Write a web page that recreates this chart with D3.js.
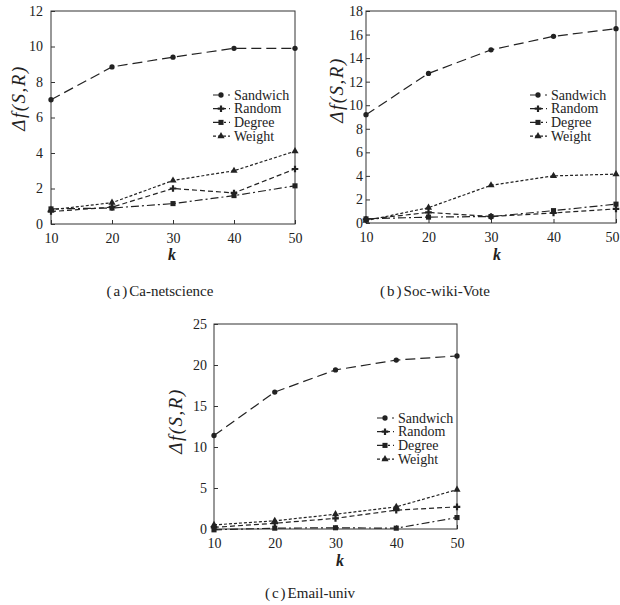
<!DOCTYPE html>
<html>
<head>
<meta charset="utf-8">
<script src="https://cdn.jsdelivr.net/npm/d3@7"></script>
<style>
  body { margin: 0; background: #fff; }
  svg { display: block; }
</style>
</head>
<body>
<script>
// x values shared by all panels
const ks = [10, 20, 30, 40, 50]
const seriesNames = ['Sandwich', 'Random', 'Degree', 'Weight']

// (a) Ca-netscience
const caSandwich = [7.0, 8.85, 9.4, 9.9, 9.9]
const caRandom = [0.7, 0.95, 2.0, 1.75, 3.1]
const caDegree = [0.85, 0.9, 1.15, 1.6, 2.15]
const caWeight = [0.8, 1.2, 2.45, 3.0, 4.1]
const caTicks = [0, 2, 4, 6, 8, 10, 12]

// (b) Soc-wiki-Vote
const socSandwich = [9.2, 12.7, 14.7, 15.85, 16.5]
const socRandom = [0.3, 0.9, 0.55, 0.85, 1.2]
const socDegree = [0.35, 0.5, 0.55, 1.05, 1.6]
const socWeight = [0.2, 1.3, 3.2, 4.0, 4.15]
const socTicks = [0, 2, 4, 6, 8, 10, 12, 14, 16, 18]

// (c) Email-univ
const emSandwich = [11.4, 16.7, 19.4, 20.6, 21.1]
const emRandom = [0.2, 0.7, 1.3, 2.3, 2.7]
const emDegree = [-0.1, 0.1, 0.15, 0.1, 1.4]
const emWeight = [0.5, 1.0, 1.8, 2.7, 4.8]
const emTicks = [0, 5, 10, 15, 20, 25]

const FONT = "'Liberation Serif', 'Times New Roman', 'DejaVu Serif', serif"

const dashes = {
  Sandwich: '10,5',
  Random: '5,3',
  Degree: '8,3,2,3',
  Weight: '3,2'
}
const symbols = {
  Sandwich: d3.symbolCircle,
  Random: d3.symbolCross,
  Degree: d3.symbolSquare,
  Weight: d3.symbolTriangle
}
const symSize = { Sandwich: 22, Random: 24, Degree: 26, Weight: 22 }

const panels = [
  { caption: '(a)', name: 'Ca-netscience', series: [caSandwich, caRandom, caDegree, caWeight],
    ticks: caTicks, box: [51, 295, 11, 224], pad: 8, legend: [213, 95], ylab: [18, 98], klab: [172, 260], cap: [160, 296] },
  { caption: '(b)', name: 'Soc-wiki-Vote', series: [socSandwich, socRandom, socDegree, socWeight],
    ticks: socTicks, box: [366, 616, 11, 223], pad: 3, legend: [530, 95], ylab: [336, 90], klab: [497, 260], cap: [435, 296] },
  { caption: '(c)', name: 'Email-univ', series: [emSandwich, emRandom, emDegree, emWeight],
    ticks: emTicks, box: [214, 457, 324, 529], pad: 7, legend: [377, 418], ylab: [175, 421], klab: [340, 566], cap: [310, 598] }
]

const svg = d3.select('body').append('svg')
  .attr('width', 620)
  .attr('height', 605)
  .attr('font-family', FONT)

panels.forEach(p => {
  const [x0, x1, y0, y1] = p.box
  const x = d3.scaleLinear().domain([10, 50]).range([x0, x1])
  const y = d3.scaleLinear().domain([0, d3.max(p.ticks)]).range([y1, y0])
  const g = svg.append('g')

  // frame
  g.append('rect')
    .attr('x', x0).attr('y', y0)
    .attr('width', x1 - x0).attr('height', y1 - y0)
    .attr('fill', 'none')
    .attr('stroke', '#333')
    .attr('stroke-width', 1)

  const ax = g.append('g')
    .attr('transform', `translate(0,${y1})`)
    .call(d3.axisBottom(x).tickValues(ks).tickSizeInner(-4).tickSizeOuter(0).tickPadding(9))
  const ay = g.append('g')
    .attr('transform', `translate(${x0},0)`)
    .call(d3.axisLeft(y).tickValues(p.ticks).tickSizeInner(-4).tickSizeOuter(0).tickPadding(p.pad))
  ;[ax, ay].forEach(a => {
    a.attr('font-family', FONT).attr('font-size', 14)
    a.select('.domain').remove()
    a.selectAll('line').attr('stroke', '#333')
    a.selectAll('text').attr('fill', '#222')
  })
  // keep the last x label inside the page
  ax.selectAll('.tick text').filter(d => x(d) + 8 > 620).attr('dx', -4)

  const line = d3.line()
    .x((d, i) => x(ks[i]))
    .y(d => y(d))

  p.series.forEach((vals, si) => {
    const nm = seriesNames[si]
    g.append('path')
      .datum(vals)
      .attr('d', line)
      .attr('fill', 'none')
      .attr('stroke', '#222')
      .attr('stroke-width', 1.2)
      .attr('stroke-dasharray', dashes[nm])
    g.selectAll(null)
      .data(vals)
      .join('path')
      .attr('transform', (d, i) => `translate(${x(ks[i])},${y(d)})`)
      .attr('d', d3.symbol(symbols[nm], symSize[nm]))
      .attr('fill', '#222')
  })

  // legend
  const [lx, ly] = p.legend
  seriesNames.forEach((nm, i) => {
    const yy = ly + i * 13.7
    g.append('line')
      .attr('x1', lx).attr('x2', lx + 17)
      .attr('y1', yy).attr('y2', yy)
      .attr('stroke', '#222')
      .attr('stroke-width', 1.2)
      .attr('stroke-dasharray', dashes[nm])
    g.append('path')
      .attr('transform', `translate(${lx + 8},${yy})`)
      .attr('d', d3.symbol(symbols[nm], symSize[nm]))
      .attr('fill', '#222')
    g.append('text')
      .attr('x', lx + 21).attr('y', yy + 4.5)
      .attr('font-family', FONT)
      .attr('font-size', 14)
      .attr('fill', '#222')
      .text(nm)
  })

  // axis titles
  g.append('text')
    .attr('transform', `translate(${p.ylab[0]},${p.ylab[1]}) rotate(-90)`)
    .attr('text-anchor', 'middle')
    .attr('dy', '0.35em')
    .attr('font-family', FONT)
    .attr('font-size', 19)
    .attr('font-style', 'italic')
    .attr('letter-spacing', 1.5)
    .attr('fill', '#222')
    .text('Δf(S,R)')
  g.append('text')
    .attr('x', p.klab[0]).attr('y', p.klab[1])
    .attr('text-anchor', 'middle')
    .attr('font-family', FONT)
    .attr('font-size', 16)
    .attr('font-style', 'italic')
    .attr('font-weight', 'bold')
    .attr('fill', '#222')
    .text('k')

  // caption
  const cap = g.append('text')
    .attr('x', p.cap[0]).attr('y', p.cap[1])
    .attr('text-anchor', 'middle')
    .attr('font-family', FONT)
    .attr('font-size', 15)
    .attr('fill', '#222')
  cap.append('tspan').attr('letter-spacing', 2).text(p.caption)
  cap.append('tspan').text(p.name)
})
</script>
</body>
</html>
